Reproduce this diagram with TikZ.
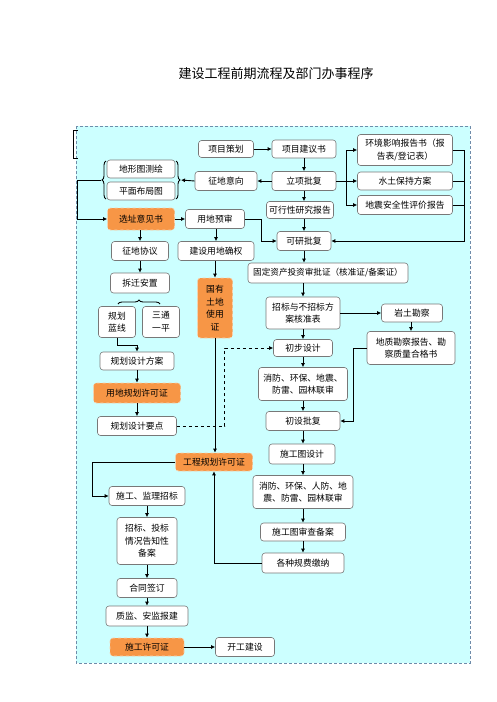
\documentclass[tikz,border=0pt]{standalone}
\usepackage{fontspec}
\setmainfont{Noto Sans CJK SC}
\usetikzlibrary{arrows.meta,decorations.pathreplacing}
\definecolor{panelcyan}{RGB}{204,255,255}
\definecolor{panelline}{RGB}{110,140,170}
\definecolor{boxline}{RGB}{120,120,120}
\definecolor{orangefill}{RGB}{247,150,70}
\tikzset{
  box/.style={draw=boxline, fill=white, rounded corners=3pt, inner sep=1pt, align=center,
    font=\fontsize{8.8}{12.5}\selectfont, line width=0.6pt},
  obox/.style={box, fill=orangefill, draw=orangefill!45!white, dashed},
  sz/.style 2 args={minimum width=#1pt, minimum height=#2pt},
  arr/.style={-{Latex[length=4pt,width=4pt]}, line width=0.9pt},
  ln/.style={line width=0.9pt},
}
\begin{document}
\begin{tikzpicture}[x=1pt,y=-1pt]
\useasboundingbox (0,0) rectangle (496,702);
\node[font=\fontsize{13}{15}\selectfont] (title) at (276,74) {建设工程前期流程及部门办事程序};
% panel
\fill[panelcyan] (76,126) rectangle (470,663);
\draw[panelline, dash pattern=on 3pt off 2pt] (76,126) rectangle (470,663);
\draw[line width=0.8pt] (78,130) -- (73,130) -- (73,158) -- (78,158);
% top rows
\node[box,sz={55}{17}] (xmch) at (226,149) {项目策划};
\node[box,sz={64}{18}] (xmjys) at (304,149) {项目建议书};
\node[box,sz={95}{31}] (hjyx) at (405,150) {环境影响报告书（报\\告表/登记表）};
\node[box,sz={68}{18}] (dxt) at (141,169) {地形图测绘};
\node[box,sz={68}{18}] (pmbj) at (141,191) {平面布局图};
\node[box,sz={62}{19}] (zdyx) at (226,181) {征地意向};
\node[box,sz={64}{19}] (lxpf) at (304,181) {立项批复};
\node[box,sz={95}{18}] (stbc) at (405,181) {水土保持方案};
\node[box,sz={95}{19}] (dzaq) at (405,205) {地震安全性评价报告};
\node[box,sz={67}{17}] (kxxyj) at (300,210) {可行性研究报告};
\node[obox,sz={67}{22}] (xzyjs) at (141,219) {选址意见书};
\node[box,sz={59}{19}] (ydys) at (215,219) {用地预审};
\node[box,sz={54}{19}] (kypf) at (304,241) {可研批复};
% land and planning
\node[box,sz={57}{19}] (zdxy) at (140,251) {征地协议};
\node[box,sz={76}{19}] (jsyd) at (216,251) {建设用地确权};
\node[box,sz={160}{20},font=\fontsize{8.6}{12}\selectfont] (gdzc) at (328,273) {固定资产投资审批证（核准证/备案证）};
\node[box,sz={59}{20}] (cqaz) at (140,283) {拆迁安置};
\node[obox,sz={35}{60}] (gytd) at (215,308) {国有\\土地\\使用\\证};
\node[box,sz={74}{32}] (zbfa) at (303,313) {招标与不招标方\\案核准表};
\node[box,sz={61}{18}] (ytkc) at (412,313) {岩土勘察};
\node[box,sz={37}{31}] (ghlx) at (117,322) {规划\\蓝线};
\node[box,sz={37}{31}] (stpy) at (161,322) {三通\\一平};
\node[box,sz={88}{33}] (dzkc) at (411,348) {地质勘察报告、勘\\察质量合格书};
\node[box,sz={59}{17}] (cbsj) at (303,348) {初步设计};
\node[box,sz={74}{18}] (ghfa) at (137,361) {规划设计方案};
\node[box,sz={89}{33}] (lsh1) at (303,384) {消防、环保、地震、\\防雷、园林联审};
\node[obox,sz={87}{20}] (ydgh) at (137,393) {用地规划许可证};
\node[box,sz={74}{19}] (cspf) at (303,421) {初设批复};
\node[box,sz={79}{19}] (ghyd) at (137,426) {规划设计要点};
\node[box,sz={66}{20}] (sgtsj) at (302,454) {施工图设计};
\node[obox,sz={77}{18}] (gcgh) at (214,462) {工程规划许可证};
% construction
\node[box,sz={100}{33}] (lsh2) at (303,492) {消防、环保、人防、地\\震、防雷、园林联审};
\node[box,sz={76}{19}] (sgjl) at (147,496) {施工、监理招标};
\node[box,sz={85}{18}] (sgtsc) at (303,532) {施工图审查备案};
\node[box,sz={60}{47}] (ztb) at (147,541) {招标、投标\\情况告知性\\备案};
\node[box,sz={82}{20}] (gfjn) at (303,563) {各种规费缴纳};
\node[box,sz={60}{19}] (htqd) at (147,588) {合同签订};
\node[box,sz={82}{20}] (zjaj) at (147,616) {质监、安监报建};
\node[obox,sz={74}{18}] (sgxk) at (147,647) {施工许可证};
\node[box,sz={59}{19}] (kgjs) at (245,647) {开工建设};
% braces
\draw[ln,decorate,decoration={brace,amplitude=4pt}] (106,199) -- (106,161);
\draw[ln,decorate,decoration={brace,amplitude=4pt}] (176,161) -- (176,199);
\draw[ln,decorate,decoration={brace,amplitude=4pt}] (118,304) -- (160,304);
\coordinate (lb) at (101,180);
\coordinate (rb) at (181,180);
% connectors
\draw[arr] (xmch) -- (xmjys);
\draw[arr] (xmjys.south) -- (xmjys.south |- lxpf.north);
\draw[arr] (lxpf) -- (zdyx);
\draw[arr] (zdyx.west) -- (rb);
\draw[arr] (lb) -- ++(-24,0) |- (xzyjs.west);
\draw[arr] (xzyjs) -- (ydys);
\draw[arr] (ydys.east) -- ++(17,0) |- (kypf.west);
\draw[ln] (lxpf.east) -- ++(10,0) coordinate (fork);
\draw[arr] (fork) |- (hjyx.west);
\draw[arr] (fork) |- (stbc.west);
\draw[arr] (fork) |- (dzaq.west);
\coordinate (rt) at (464,150);
\draw[arr] (hjyx.east) -- (rt) |- (kypf.east);
\draw[ln] (stbc.east) -- (stbc.east -| rt);
\draw[ln] (dzaq.east) -- (dzaq.east -| rt);
\draw[arr] (lxpf.south) -- (lxpf.south |- kxxyj.north);
\draw[arr] (kxxyj.south -| kypf) -- (kypf.north);
\draw[arr] (kypf.south) -- (kypf.south |- gdzc.north);
\draw[arr] (gdzc.south -| zbfa) -- (zbfa.north);
\draw[arr] (zbfa) -- (ytkc);
\draw[arr] (ytkc.south -| dzkc) -- (dzkc.north);
\draw[arr] (dzkc.west) -- ++(-13,0) |- (cspf.east);
\draw[arr] (zbfa) -- (cbsj);
\draw[arr] (cbsj) -- (lsh1);
\draw[arr] (lsh1) -- (cspf);
\draw[arr] (cspf.south) -- (cspf.south |- sgtsj.north);
\draw[arr] (sgtsj.south -| lsh2) -- (lsh2.north);
\draw[arr] (lsh2) -- (sgtsc);
\draw[arr] (sgtsc) -- (gfjn);
\draw[arr] (gfjn.west) -| (gcgh.south);
\draw[arr] (xzyjs.south -| zdxy) -- (zdxy.north);
\draw[arr] (zdxy) -- (cqaz);
\draw[arr] (ydys.south -| jsyd) -- (jsyd.north);
\draw[arr] (jsyd.south -| gytd) -- (gytd.north);
\draw[arr] (gytd.south) -- (gytd.south |- gcgh.north);
\draw[arr] (ghlx.south) -- ++(0,8) -| (ghfa.north);
\draw[arr] (ghfa) -- (ydgh);
\draw[arr] (ydgh) -- (ghyd);
\draw[arr,dashed] (ghyd.east) -- ++(48,0) |- (cbsj.west);
\draw[arr] (gcgh.west) -- ++(-83,0) |- (sgjl.west);
\draw[arr] (sgjl) -- (ztb);
\draw[arr] (ztb) -- (htqd);
\draw[arr] (htqd) -- (zjaj);
\draw[arr] (zjaj) -- (sgxk);
\draw[arr] (sgxk) -- (kgjs);
\end{tikzpicture}
\end{document}
